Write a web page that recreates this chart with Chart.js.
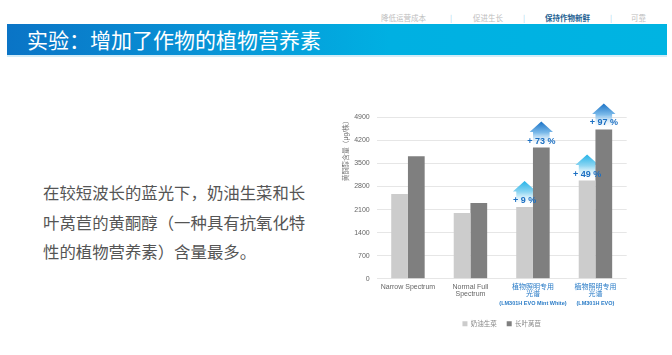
<!DOCTYPE html>
<html>
<head>
<meta charset="utf-8">
<script src="https://cdn.jsdelivr.net/npm/chart.js@4.4.1/dist/chart.umd.min.js"></script>
<style>
    html, body { margin: 0; padding: 0; background: #fff; }
    body { width: 672px; height: 355px; position: relative; overflow: hidden; font-family: "Noto Sans CJK SC", "Noto Sans", sans-serif; }
    #nav { position: absolute; top: 12px; left: 0; width: 672px; height: 12px; font-size: 7.5px; color: #bdbdbd; }
    #nav span { position: absolute; top: 0; line-height: 12px; white-space: nowrap; }
    #nav .sep { color: #9fd3ec; }
    #nav .on { color: #1d5f92; font-weight: bold; }
    #bar { position: absolute; left: 7px; top: 24px; width: 660px; height: 31px;
        background: linear-gradient(to right, #0a74c6 0%, #0893d6 30%, #00b0e2 58%, #00b4e2 100%); }
    #barLine { position: absolute; left: 7px; top: 55px; width: 660px; height: 2px; background: #d3ecf7; }
    #title { position: absolute; left: 27px; top: 24px; height: 31px; line-height: 31px; font-size: 21px; color: #fff; }
    #text { position: absolute; left: 43px; top: 178px; white-space: nowrap; font-size: 16.4px; line-height: 29.5px; color: #555; }
    #wrap { position: absolute; left: 330px; top: 100px; width: 320px; height: 237px; }
</style>
</head>
<body>
<div id="nav">
    <span style="left:381px">降低运营成本</span>
    <span class="sep" style="left:450px">|</span>
    <span style="left:473px">促进生长</span>
    <span class="sep" style="left:523px">|</span>
    <span class="on" style="left:545px">保持作物新鲜</span>
    <span class="sep" style="left:610px">|</span>
    <span style="left:631px">可靠</span>
</div>
<div id="bar"></div>
<div id="barLine"></div>
<div id="title">实验：增加了作物的植物营养素</div>
<div id="text">在较短波长的蓝光下，奶油生菜和长<br>叶莴苣的黄酮醇（一种具有抗氧化特<br>性的植物营养素）含量最多。</div>
<div id="wrap"><canvas id="chart"></canvas></div>

<script>
const categories = [['Narrow Spectrum'], ['Normal Full', 'Spectrum'], ['植物照明专用', '光谱'], ['植物照明专用', '光谱']];
const subLabels = ['', '', '(LM301H EVO Mint White)', '(LM301H EVO)'];
const seriesNames = ['奶油生菜', '长叶莴苣'];
const butterLettuce = [2570, 2000, 2180, 2980];
const romaine = [3720, 2300, 3980, 4530];
const butterGain = [null, null, 9, 49];
const romaineGain = [null, null, 73, 97];
const yMax = 4900;
const yStep = 700;
const yTitle = '黄酮醇含量（μg/株）';

const latin = '"Liberation Sans", "Noto Sans CJK SC", sans-serif';
const gains = [butterGain, romaineGain];
const arrowColors = ['#25b3e8', '#1a72c6'];

// arrows sit behind the bars, the % text goes on top
const arrows = {
    id: 'arrows',
    afterLayout(chart) {
        // centre the legend under the plot, not under the whole canvas
        const lg = chart.legend, ca = chart.chartArea;
        const d = (ca.left + ca.right) / 2 - (lg.left + lg.right) / 2;
        lg.left += d;
        lg.right += d;
    },
    beforeDatasetsDraw(chart) {
        const ctx = chart.ctx;
        for (var i = 0; i < gains.length; i++) {
            chart.getDatasetMeta(i).data.forEach(function (bar, j) {
                if (gains[i][j] === null) return;
                const x = bar.x, yb = bar.y;
                const tip = yb - 26, base = tip + 10.5, bottom = yb - 1;
                const grad = ctx.createLinearGradient(0, tip, 0, bottom);
                grad.addColorStop(0, arrowColors[i]);
                grad.addColorStop(0.45, i === 0 ? '#8fd6f2' : '#7dbbea');
                grad.addColorStop(1, 'rgba(255,255,255,0)');
                ctx.save();
                ctx.fillStyle = grad;
                ctx.beginPath();
                ctx.moveTo(x, tip);
                ctx.lineTo(x + 11.7, base);
                ctx.lineTo(x + 8.3, base);
                ctx.lineTo(x + 8.3, bottom);
                ctx.lineTo(x - 8.3, bottom);
                ctx.lineTo(x - 8.3, base);
                ctx.lineTo(x - 11.7, base);
                ctx.closePath();
                ctx.fill();
                ctx.restore();
            });
        }
    },
    afterDatasetsDraw(chart) {
        const ctx = chart.ctx;
        ctx.save();
        ctx.font = 'bold 9px ' + latin;
        ctx.fillStyle = '#1b6fc2';
        ctx.textAlign = 'center';
        ctx.textBaseline = 'middle';
        for (var i = 0; i < gains.length; i++) {
            chart.getDatasetMeta(i).data.forEach(function (bar, j) {
                if (gains[i][j] === null) return;
                ctx.fillText('+ ' + gains[i][j] + ' %', bar.x, bar.y - 6.5);
            });
        }
        // third line of the x labels, smaller and bold
        const xs = chart.scales.x;
        ctx.font = 'bold 5.5px ' + latin;
        ctx.fillStyle = '#2a7cc7';
        subLabels.forEach(function (s, j) {
            if (s) ctx.fillText(s, xs.getPixelForValue(j), chart.chartArea.bottom + 24.4);
        });
        ctx.restore();
    }
};

const chart = new Chart(document.getElementById('chart'), {
    type: 'bar',
    data: {
        labels: categories,
        datasets: [
            { label: seriesNames[0], data: butterLettuce, backgroundColor: '#cccccc' },
            { label: seriesNames[1], data: romaine, backgroundColor: '#7f7f7f' }
        ]
    },
    options: {
        responsive: true,
        maintainAspectRatio: false,
        animation: false,
        categoryPercentage: 0.535,
        barPercentage: 1,
        layout: { padding: { top: 17.3, right: 23.3, left: 0, bottom: 0 } },
        plugins: {
            tooltip: { enabled: false },
            legend: {
                position: 'bottom',
                labels: {
                    boxWidth: 5, boxHeight: 5, padding: 10,
                    color: '#888',
                    font: { size: 6.5, family: latin }
                }
            }
        },
        scales: {
            x: {
                grid: { display: false, drawTicks: false },
                border: { display: false },
                ticks: {
                    autoSkip: false, maxRotation: 0, padding: 4,
                    font: { size: 7, family: latin, lineHeight: 1.1 },
                    color: function (c) { return c.index >= 2 ? '#2a7cc7' : '#666'; }
                },
                afterFit: function (s) { s.height = 31.7; }
            },
            y: {
                min: 0, max: yMax,
                grid: { color: '#e6e6e6', drawTicks: false },
                border: { display: false },
                ticks: {
                    stepSize: yStep, padding: 7,
                    color: '#666',
                    font: { size: 7, family: latin },
                    callback: function (v) { return String(v); }
                },
                title: {
                    display: true, text: yTitle, align: 'end',
                    color: '#777', padding: { top: 12, bottom: 0 },
                    font: { size: 6.8, family: latin }
                },
                afterFit: function (s) { s.width = 46.7; }
            }
        }
    },
    plugins: [arrows]
});
</script>
</body>
</html>
